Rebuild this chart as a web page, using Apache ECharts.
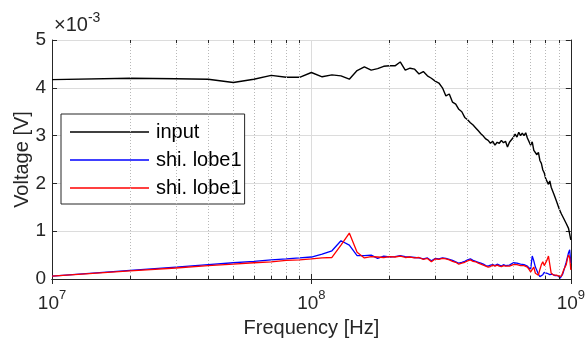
<!DOCTYPE html>
<html>
<head>
<meta charset="utf-8">
<script src="https://cdn.jsdelivr.net/npm/echarts@6/dist/echarts.min.js"></script>
<style>
  html, body { margin: 0; padding: 0; background: #fff; }
  #chart { width: 588px; height: 343px; }
</style>
</head>
<body>
<div id="chart"></div>
<script>
// frequency grid in MHz (10 MHz steps)
const freqMHz = [
  10, 20, 30, 40, 50, 60, 70, 80, 90, 100,
  110, 120, 130, 140, 150, 160, 170, 180, 190, 200,
  210, 220, 230, 240, 250, 260, 270, 280, 290, 300,
  310, 320, 330, 340, 350, 360, 370, 380, 390, 400,
  410, 420, 430, 440, 450, 460, 470, 480, 490, 500,
  510, 520, 530, 540, 550, 560, 570, 580, 590, 600,
  610, 620, 630, 640, 650, 660, 670, 680, 690, 700,
  710, 720, 730, 740, 750, 760, 770, 780, 790, 800,
  810, 820, 830, 840, 850, 860, 870, 880, 890, 900,
  910, 920, 930, 940, 950, 960, 970, 980, 990, 1000
];

// voltages in units of 1e-3 V
const inputV = [
  4.17, 4.20, 4.19, 4.18, 4.11, 4.18, 4.26, 4.22, 4.22, 4.32,
  4.23, 4.27, 4.25, 4.18, 4.36, 4.44, 4.37, 4.40, 4.45, 4.46,
  4.46, 4.54, 4.37, 4.41, 4.39, 4.29, 4.34, 4.25, 4.20, 4.14,
  4.10, 4.00, 3.83, 3.87, 3.70, 3.66, 3.55, 3.50, 3.38, 3.33,
  3.27, 3.22, 3.16, 3.10, 3.04, 2.99, 2.93, 2.90, 2.84, 2.88,
  2.80, 2.86, 2.84, 2.90, 2.85, 2.88, 2.76, 2.86, 2.88, 2.96,
  3.03, 2.97, 3.07, 3.00, 3.05, 3.00, 3.06, 2.95, 2.99, 2.80,
  2.87, 2.69, 2.73, 2.60, 2.65, 2.48, 2.42, 2.28, 2.22, 2.10,
  2.08, 1.98, 2.05, 1.92, 1.95, 1.78, 1.76, 1.63, 1.60, 1.48,
  1.49, 1.36, 1.38, 1.26, 1.28, 1.16, 1.19, 1.06, 1.02, 0.82
];

const lobeBlueV = [
  0.06, 0.18, 0.25, 0.30, 0.34, 0.37, 0.40, 0.42, 0.44, 0.46,
  0.52, 0.59, 0.80, 0.71, 0.49, 0.49, 0.50, 0.43, 0.48, 0.46,
  0.47, 0.49, 0.47, 0.46, 0.45, 0.44, 0.42, 0.44, 0.38, 0.43,
  0.42, 0.44, 0.43, 0.41, 0.39, 0.36, 0.33, 0.35, 0.37, 0.40,
  0.42, 0.39, 0.37, 0.35, 0.33, 0.31, 0.28, 0.27, 0.29, 0.30,
  0.28, 0.31, 0.29, 0.27, 0.30, 0.28, 0.26, 0.29, 0.27, 0.34,
  0.38, 0.33, 0.30, 0.31, 0.29, 0.30, 0.28, 0.27, 0.24, 0.20,
  0.48, 0.38, 0.25, 0.18, 0.10, 0.05, 0.04, 0.09, 0.14, 0.15,
  0.12, 0.10, 0.09, 0.08, 0.10, 0.08, 0.07, 0.08, 0.07, 0.04,
  0.02, 0.01, 0.10, 0.18, 0.22, 0.35, 0.45, 0.55, 0.61, 0.33
];

const lobeRedV = [
  0.06, 0.17, 0.23, 0.28, 0.31, 0.34, 0.36, 0.39, 0.40, 0.42,
  0.44, 0.45, 0.71, 0.96, 0.56, 0.44, 0.47, 0.46, 0.45, 0.47,
  0.46, 0.48, 0.45, 0.46, 0.44, 0.45, 0.41, 0.43, 0.36, 0.42,
  0.41, 0.43, 0.42, 0.40, 0.37, 0.35, 0.31, 0.33, 0.35, 0.38,
  0.40, 0.37, 0.36, 0.33, 0.31, 0.29, 0.27, 0.25, 0.26, 0.29,
  0.27, 0.29, 0.27, 0.26, 0.28, 0.27, 0.25, 0.27, 0.25, 0.30,
  0.32, 0.30, 0.29, 0.28, 0.27, 0.28, 0.26, 0.25, 0.20, 0.15,
  0.19, 0.25, 0.12, 0.08, 0.08, 0.20, 0.30, 0.36, 0.28, 0.26,
  0.40, 0.48, 0.30, 0.12, 0.09, 0.08, 0.07, 0.08, 0.08, 0.06,
  0.05, 0.06, 0.10, 0.20, 0.22, 0.30, 0.42, 0.50, 0.45, 0.19
];

const seriesNames = ['input', 'shi. lobe1', 'shi. lobe1 '];
const seriesColors = ['#000000', '#0000ff', '#ff0000'];
const yTicks = [0, 1, 2, 3, 4, 5];
const minorFreqMHz = [20, 30, 40, 50, 60, 70, 80, 90, 200, 300, 400, 500, 600, 700, 800, 900];

const FONT = '"Liberation Sans", Arial, sans-serif';
const AXIS_COLOR = '#262626';

const chart = echarts.init(document.getElementById('chart'), null, { renderer: 'canvas' });

const toPairs = (vals) => freqMHz.map((f, i) => [f * 1e6, vals[i]]);
const tickLen = 0.065;

const supLabel = (value) => {
  const e = Math.round(Math.log10(value));
  return '{b|10}{s|' + e + '}';
};

const xAxisBase = {
  type: 'log',
  logBase: 10,
  min: 1e7,
  max: 1e9,
  axisLine: { show: true, lineStyle: { color: AXIS_COLOR, width: 1 } },
  axisTick: { show: true, inside: true, length: 5, lineStyle: { color: AXIS_COLOR } },
  minorTick: { show: false },
};

const yAxisBase = {
  type: 'value',
  min: 0,
  max: 5,
  interval: 1,
  axisLine: { show: true, lineStyle: { color: AXIS_COLOR, width: 1 } },
  axisTick: { show: true, inside: true, length: 5, lineStyle: { color: AXIS_COLOR } },
};

const lineSeries = [inputV, lobeBlueV, lobeRedV].map((vals, i) => ({
  name: seriesNames[i],
  type: 'line',
  data: toPairs(vals),
  symbol: 'none',
  smooth: false,
  lineStyle: { color: seriesColors[i], width: i === 0 ? 1.4 : 1.3 },
  itemStyle: { color: seriesColors[i] },
  z: 3 + i,
}));

const options = {
  animation: false,
  backgroundColor: '#ffffff',
  textStyle: { fontFamily: FONT },
  grid: { left: 52, right: 17, top: 40, bottom: 64, containLabel: false },
  legend: {
    data: seriesNames,
    formatter: (n) => n.trim(),
    orient: 'vertical',
    left: 61,
    top: 114,
    icon: 'rect',
    itemWidth: 79,
    itemHeight: 1.4,
    itemGap: 8,
    padding: [8, 3, 6, 9],
    backgroundColor: '#ffffff',
    borderColor: AXIS_COLOR,
    borderWidth: 1,
    borderRadius: 0,
    textStyle: { fontSize: 20, color: '#000', fontFamily: FONT, padding: [0, 0, 0, 2] },
  },
  graphic: [
    {
      type: 'text',
      left: 54,
      top: 11,
      style: {
        text: '{a|×10}{b|-3}',
        rich: {
          a: { fontSize: 20, fontFamily: FONT, fill: AXIS_COLOR, verticalAlign: 'bottom', lineHeight: 24 },
          b: { fontSize: 14, fontFamily: FONT, fill: AXIS_COLOR, verticalAlign: 'top', lineHeight: 24 },
        },
      },
    },
  ],
  xAxis: [
    {
      ...xAxisBase,
      position: 'bottom',
      name: 'Frequency [Hz]',
      nameLocation: 'middle',
      nameGap: 39,
      nameMoveOverlap: false,
      nameTextStyle: { fontSize: 20, color: AXIS_COLOR, fontFamily: FONT },
      splitLine: { show: true, lineStyle: { color: '#dcdcdc', width: 1 } },
      axisLabel: {
        show: true,
        margin: 10,
        showMinLabel: true,
        showMaxLabel: true,
        formatter: supLabel,
        rich: {
          b: { fontSize: 19, color: AXIS_COLOR, fontFamily: FONT, verticalAlign: 'bottom', lineHeight: 24 },
          s: { fontSize: 13, color: AXIS_COLOR, fontFamily: FONT, verticalAlign: 'top', lineHeight: 24 },
        },
      },
    },
    {
      ...xAxisBase,
      position: 'top',
      splitLine: { show: false },
      axisLabel: { show: false },
    },
  ],
  yAxis: [
    {
      ...yAxisBase,
      position: 'left',
      name: 'Voltage [V]',
      nameLocation: 'middle',
      nameGap: 20,
      nameMoveOverlap: false,
      nameTextStyle: { fontSize: 20, color: AXIS_COLOR, fontFamily: FONT },
      splitLine: { show: true, lineStyle: { color: '#dcdcdc', width: 1 } },
      axisLabel: { show: true, margin: 6, fontSize: 19, color: AXIS_COLOR, fontFamily: FONT },
    },
    {
      ...yAxisBase,
      position: 'right',
      splitLine: { show: false },
      axisLabel: { show: false },
    },
  ],
  series: [
    {
      name: 'minorGrid',
      type: 'line',
      data: [],
      z: 1,
      markLine: {
        silent: true,
        symbol: 'none',
        label: { show: false },
        animation: false,
        lineStyle: { color: '#b8b8b8', type: [1, 2], width: 1 },
        data: minorFreqMHz.map((f) => ({ xAxis: f * 1e6 })),
      },
    },
    {
      name: 'minorTicks',
      type: 'line',
      data: [],
      z: 2,
      markLine: {
        silent: true,
        symbol: 'none',
        label: { show: false },
        animation: false,
        lineStyle: { color: AXIS_COLOR, type: 'solid', width: 1 },
        data: minorFreqMHz
          .map((f) => [{ coord: [f * 1e6, yTicks[0]] }, { coord: [f * 1e6, yTicks[0] + tickLen] }])
          .concat(minorFreqMHz.map((f) => [
            { coord: [f * 1e6, yTicks[yTicks.length - 1]] },
            { coord: [f * 1e6, yTicks[yTicks.length - 1] - tickLen] },
          ])),
      },
    },
    ...lineSeries,
  ],
};

chart.setOption(options);
</script>
</body>
</html>
